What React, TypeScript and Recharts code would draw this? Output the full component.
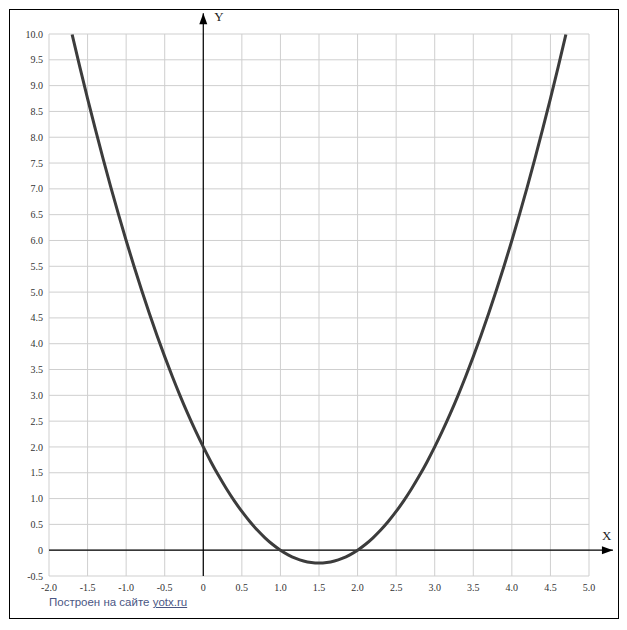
import { LineChart, Line, XAxis, YAxis, CartesianGrid, ReferenceLine } from "recharts";

const xValues = [
  -1.7, -1.6, -1.5, -1.4, -1.3, -1.2, -1.1, -1.0, -0.9, -0.8, -0.7, -0.6, -0.5, -0.4, -0.3, -0.2, -0.1,
  0, 0.1, 0.2, 0.3, 0.4, 0.5, 0.6, 0.7, 0.8, 0.9, 1.0, 1.1, 1.2, 1.3, 1.4, 1.5, 1.6, 1.7, 1.8, 1.9,
  2.0, 2.1, 2.2, 2.3, 2.4, 2.5, 2.6, 2.7, 2.8, 2.9, 3.0, 3.1, 3.2, 3.3, 3.4, 3.5, 3.6, 3.7, 3.8, 3.9,
  4.0, 4.1, 4.2, 4.3, 4.4, 4.5, 4.6, 4.7,
];
const yValues = [
  9.99, 9.36, 8.75, 8.16, 7.59, 7.04, 6.51, 6.0, 5.51, 5.04, 4.59, 4.16, 3.75, 3.36, 2.99, 2.64, 2.31,
  2.0, 1.71, 1.44, 1.19, 0.96, 0.75, 0.56, 0.39, 0.24, 0.11, 0, -0.09, -0.16, -0.21, -0.24, -0.25, -0.24,
  -0.21, -0.16, -0.09, 0, 0.11, 0.24, 0.39, 0.56, 0.75, 0.96, 1.19, 1.44, 1.71, 2.0, 2.31, 2.64, 2.99,
  3.36, 3.75, 4.16, 4.59, 5.04, 5.51, 6.0, 6.51, 7.04, 7.59, 8.16, 8.75, 9.36, 9.99,
];
const xTicks = [-2, -1.5, -1, -0.5, 0, 0.5, 1, 1.5, 2, 2.5, 3, 3.5, 4, 4.5, 5];
const yTicks = [-0.5, 0, 0.5, 1, 1.5, 2, 2.5, 3, 3.5, 4, 4.5, 5, 5.5, 6, 6.5, 7, 7.5, 8, 8.5, 9, 9.5, 10];

const data = xValues.map((x, i) => ({ x, y: yValues[i] }));

const fmt = (v: number) => (v === 0 ? "0" : v.toFixed(1));
const tickStyle = { fontFamily: "'Liberation Serif', serif", fontSize: 10, fill: "#333" };

function AxisArrow(props: any) {
  const { x1, y1, x2, y2, label, vertical } = props;
  const head = vertical
    ? `${x2},${y2} ${x2 - 4},${y2 + 11} ${x2 + 4},${y2 + 11}`
    : `${x2},${y2} ${x2 - 11},${y2 - 4} ${x2 - 11},${y2 + 4}`;
  return (
    <g>
      <line x1={x1} y1={y1} x2={x2} y2={y2} stroke="#000" strokeWidth={1.2} />
      <polygon points={head} fill="#000" />
      <text
        x={vertical ? x2 + 11 : x2 - 11}
        y={vertical ? y2 + 8 : y2 - 10}
        fontFamily="'Liberation Serif', serif"
        fontSize={13}
        fill="#222"
      >
        {label}
      </text>
    </g>
  );
}

export default function App() {
  return (
    <div style={{ position: "relative", width: 627, height: 630, margin: -8, background: "#fff" }}>
      <div
        style={{
          position: "absolute",
          left: 9,
          top: 9,
          width: 608,
          height: 608,
          border: "1px solid #000",
        }}
      />
      <div style={{ position: "absolute", left: 0, top: 0 }}>
        <LineChart width={627} height={630} data={data} margin={{ top: 34, right: 38, bottom: 24, left: 9 }}>
          <CartesianGrid stroke="#cfcfcf" strokeWidth={1} />
          <XAxis
            type="number"
            dataKey="x"
            domain={[-2, 5]}
            ticks={xTicks}
            tickFormatter={fmt}
            axisLine={false}
            tickLine={false}
            tickSize={4}
            tickMargin={4}
            height={30}
            tick={tickStyle}
            interval={0}
          />
          <YAxis
            type="number"
            domain={[-0.5, 10]}
            ticks={yTicks}
            tickFormatter={fmt}
            axisLine={false}
            tickLine={false}
            tickSize={4}
            tickMargin={2}
            width={40}
            tick={tickStyle}
            interval={0}
          />
          <ReferenceLine
            segment={[{ x: -2, y: 0 }, { x: 5.31, y: 0 }]}
            ifOverflow="visible"
            shape={(p: any) => <AxisArrow {...p} label="X" />}
          />
          <ReferenceLine
            segment={[{ x: 0, y: -0.5 }, { x: 0, y: 10.4 }]}
            ifOverflow="visible"
            shape={(p: any) => <AxisArrow {...p} label="Y" vertical />}
          />
          <Line
            type="monotone"
            dataKey="y"
            stroke="#3c3c3c"
            strokeWidth={3}
            dot={false}
            isAnimationActive={false}
          />
        </LineChart>
      </div>
      <div
        style={{
          position: "absolute",
          left: 49,
          top: 596,
          fontFamily: "'Liberation Sans', sans-serif",
          fontSize: 11.5,
          color: "#4a5683",
        }}
      >
        Построен на сайте <span style={{ textDecoration: "underline" }}>yotx.ru</span>
      </div>
    </div>
  );
}
